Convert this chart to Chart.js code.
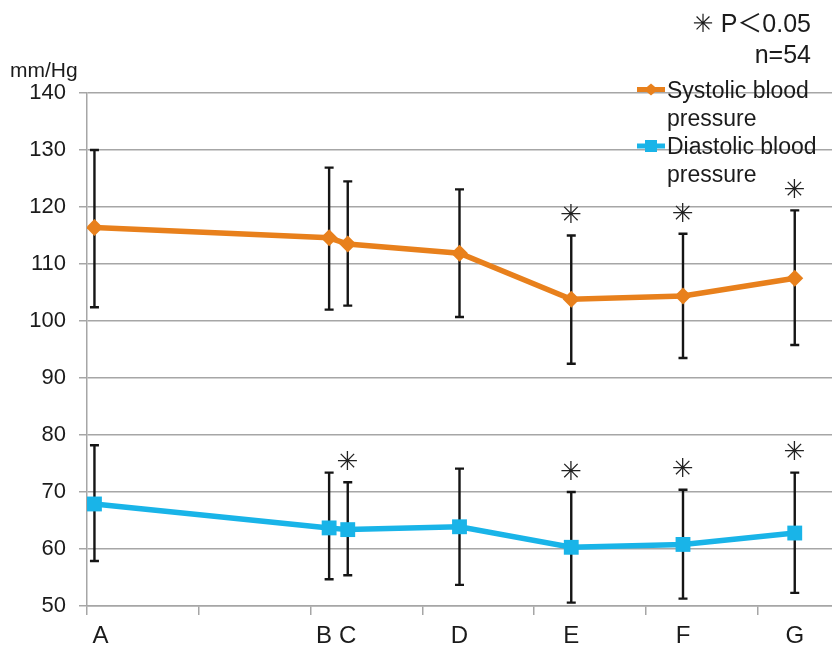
<!DOCTYPE html>
<html>
<head>
<meta charset="utf-8">
<script src="https://cdn.jsdelivr.net/npm/chart.js@4/dist/chart.umd.min.js"></script>
<style>
  html, body { margin: 0; padding: 0; background: #ffffff; }
  #wrap { width: 832px; height: 649px; }
</style>
</head>
<body>
<div id="wrap"><canvas id="c" width="832" height="649"></canvas></div>
<script>
// ---- data ----
const xLabels   = ['A', 'B', 'C', 'D', 'E', 'F', 'G'];
const xVals     = [2, 65, 70, 100, 130, 160, 190];
const sysMean   = [116.4, 114.6, 113.5, 111.9, 103.8, 104.4, 107.5];
const sysUpper  = [130.0, 126.9, 124.5, 123.1, 115.0, 115.3, 119.4];
const sysLower  = [102.4, 102.0, 102.7, 100.7, 92.5, 93.5, 95.8];
const diaMean   = [67.9, 63.7, 63.4, 63.9, 60.3, 60.8, 62.8];
const diaUpper  = [78.2, 73.4, 71.7, 74.1, 70.0, 70.4, 73.4];
const diaLower  = [57.9, 54.7, 55.4, 53.7, 50.6, 51.3, 52.3];
const sysSig    = [false, false, false, false, true, true, true];
const diaSig    = [false, false, true, false, true, true, true];
const yMin = 50, yMax = 140, yStep = 10;
const xMin = 0, xMax = 200, xStep = 30;
const seriesNames = ['Systolic blood pressure', 'Diastolic blood pressure'];
const unitLabel = 'mm/Hg';
const noteLines = ['\u2733 P\uFF1C0.05', 'n=54'];
const sigMark = '\u2733';

const ORANGE = '#E8801C';
const BLUE = '#19B4E8';
const FONT = "'Liberation Sans', Arial, 'DejaVu Sans', sans-serif";
const TEXT = '#1b1b1b';
const GRID = '#a6a6a6';

const toPts = (ys) => ys.map((y, i) => ({ x: xVals[i], y: y }));

const errorBars = {
  id: 'errorBars',
  beforeDatasetsDraw(chart) {
    const ctx = chart.ctx, xs = chart.scales.x, ys = chart.scales.y;
    const sets = [[sysUpper, sysLower], [diaUpper, diaLower]];
    ctx.save();
    ctx.strokeStyle = '#151515';
    ctx.lineWidth = 2.4;
    sets.forEach(([up, lo]) => {
      xVals.forEach((xv, i) => {
        const px = xs.getPixelForValue(xv);
        const t = ys.getPixelForValue(up[i]);
        const b = ys.getPixelForValue(lo[i]);
        ctx.beginPath();
        ctx.moveTo(px, t); ctx.lineTo(px, b);
        ctx.moveTo(px - 4.5, t); ctx.lineTo(px + 4.5, t);
        ctx.moveTo(px - 4.5, b); ctx.lineTo(px + 4.5, b);
        ctx.stroke();
      });
    });
    ctx.restore();
  },
  afterDatasetsDraw(chart) {
    const ctx = chart.ctx, xs = chart.scales.x, ys = chart.scales.y;
    ctx.save();
    ctx.fillStyle = '#222';
    ctx.font = "26px 'DejaVu Sans', sans-serif";
    ctx.textAlign = 'center';
    ctx.textBaseline = 'middle';
    [[sysSig, sysUpper], [diaSig, diaUpper]].forEach(([sig, up]) => {
      xVals.forEach((xv, i) => {
        if (!sig[i]) return;
        ctx.fillText(sigMark, xs.getPixelForValue(xv), ys.getPixelForValue(up[i]) - 19);
      });
    });
    ctx.restore();
  },
  afterDraw(chart) {
    const ctx = chart.ctx, xs = chart.scales.x;
    ctx.save();
    ctx.fillStyle = TEXT;
    ctx.textBaseline = 'middle';
    // x category labels under the points
    ctx.font = '24px ' + FONT;
    ctx.textAlign = 'center';
    xVals.forEach((xv, i) => {
      let px = xs.getPixelForValue(xv);
      if (xLabels[i] === 'B') px -= 5;
      if (xLabels[i] === 'A') px += 6;
      ctx.fillText(xLabels[i], px, 636);
    });
    // unit label
    ctx.font = '21px ' + FONT;
    ctx.textAlign = 'left';
    ctx.fillText(unitLabel, 10, 71);
    // note
    ctx.textAlign = 'right';
    ctx.textBaseline = 'alphabetic';
    ctx.font = "25px 'Liberation Sans', 'Noto Sans CJK JP', 'DejaVu Sans', sans-serif";
    ctx.fillText(noteLines[0], 811, 31.5);
    ctx.fillText(noteLines[1], 811, 63);
    // legend
    const ly = [89.5, 146];
    const ty = [98.3, 154.3];
    const colors = [ORANGE, BLUE];
    ctx.font = '23px ' + FONT;
    seriesNames.forEach((name, k) => {
      const y = ly[k];
      ctx.strokeStyle = colors[k];
      ctx.lineWidth = 5;
      ctx.beginPath(); ctx.moveTo(637, y); ctx.lineTo(665, y); ctx.stroke();
      ctx.fillStyle = colors[k];
      if (k === 0) {
        ctx.beginPath();
        ctx.moveTo(651, y - 6); ctx.lineTo(658, y); ctx.lineTo(651, y + 6); ctx.lineTo(644, y);
        ctx.closePath(); ctx.fill();
      } else {
        ctx.fillRect(645, y - 6, 12, 12);
      }
      // wrap text
      const words = name.split(' ');
      const lines = []; let cur = '';
      words.forEach(w => {
        const test = cur ? cur + ' ' + w : w;
        if (ctx.measureText(test).width > 160 && cur) { lines.push(cur); cur = w; }
        else cur = test;
      });
      lines.push(cur);
      ctx.fillStyle = TEXT;
      ctx.textAlign = 'left';
      lines.forEach((ln, j) => ctx.fillText(ln, 667, ty[k] + j * 28));
    });
    ctx.restore();
  }
};

new Chart(document.getElementById('c'), {
  type: 'line',
  data: {
    datasets: [
      {
        label: seriesNames[0],
        data: toPts(sysMean),
        borderColor: ORANGE,
        backgroundColor: ORANGE,
        borderWidth: 5.5,
        pointStyle: 'rectRot',
        pointRadius: 8.5,
        pointBorderWidth: 0,
        tension: 0
      },
      {
        label: seriesNames[1],
        data: toPts(diaMean),
        borderColor: BLUE,
        backgroundColor: BLUE,
        borderWidth: 5.5,
        pointStyle: 'rect',
        pointRadius: 10.5,
        pointBorderWidth: 0,
        tension: 0
      }
    ]
  },
  options: {
    responsive: false,
    animation: false,
    devicePixelRatio: 1,
    layout: { autoPadding: false, padding: { top: 93, right: 0, bottom: 0, left: 0 } },
    plugins: { legend: { display: false }, tooltip: { enabled: false } },
    scales: {
      x: {
        type: 'linear',
        min: xMin, max: xMax,
        ticks: { display: false, stepSize: xStep },
        grid: {
          drawOnChartArea: false, drawTicks: true, tickLength: 9, lineWidth: 1.5,
          color: (c) => (c.tick && Math.abs(c.tick.value % xStep) < 1e-6) ? GRID : 'rgba(0,0,0,0)'
        },
        border: { color: GRID, width: 1.5 },
        afterFit(s) { s.height = 43; }
      },
      y: {
        min: yMin, max: yMax,
        ticks: { stepSize: yStep, color: TEXT, font: { family: FONT, size: 22 }, padding: 13 },
        grid: { color: GRID, lineWidth: 1.5, tickLength: 8 },
        border: { color: GRID, width: 1.5 },
        afterFit(s) { s.width = 87; }
      }
    }
  },
  plugins: [errorBars]
});
</script>
</body>
</html>
